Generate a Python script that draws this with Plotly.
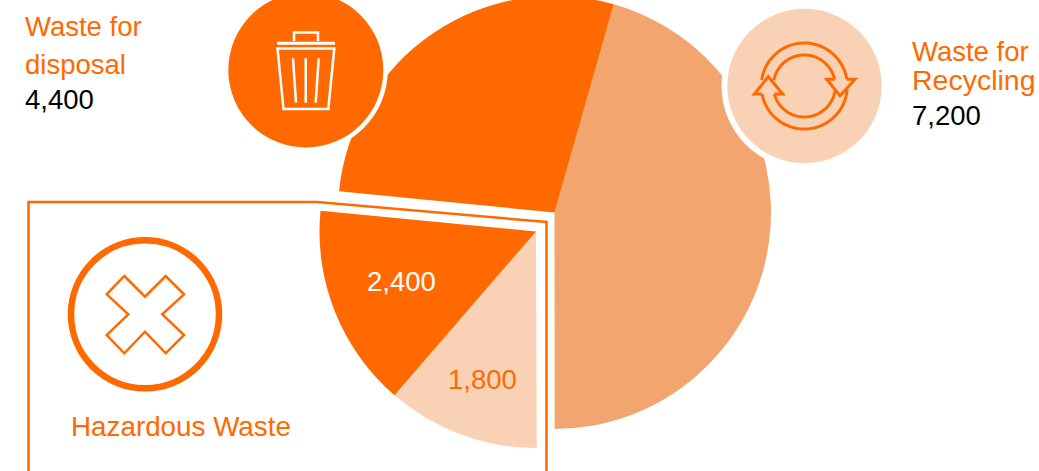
import numpy as np
import plotly.graph_objects as go

# Waste quantities
recycling = 7200
disposal = 4400
hazardous_labels = ["Low risk", "High risk"]
hazardous_values = [1800, 2400]

ORANGE = "#FF6900"
MID = "#F3A570"
LIGHT = "#F9D2B6"
CLEAR = "rgba(0,0,0,0)"
FONT = "Liberation Sans"

W, H = 1039, 476
TOP = 5  # the page is lifted by this much so the pie runs off the upper edge


def px(x):
    return x / W


def py(y):
    return 1 - (y + TOP) / H


def pie_domain(cx, cy, r):
    return dict(x=[px(cx - r), px(cx + r)], y=[py(cy + r), py(cy - r)])


def svg(points, closed=False):
    d = "M " + " L ".join(f"{px(x):.5f},{py(y):.5f}" for x, y in points)
    return d + (" Z" if closed else "")


def arc(cx, cy, r, a0, a1):
    angles = np.radians(np.linspace(a0, a1, 60))
    return list(zip(cx + r * np.cos(angles), cy + r * np.sin(angles)))


def disc(cx, cy, r, fill, line=None, lw=0):
    return dict(
        type="circle", xref="paper", yref="paper", layer="above",
        x0=px(cx - r), x1=px(cx + r), y0=py(cy + r), y1=py(cy - r),
        fillcolor=fill, line=dict(color=line or CLEAR, width=lw),
    )


def stroke(points, color, lw=2, closed=False):
    return dict(
        type="path", xref="paper", yref="paper", layer="above",
        path=svg(points, closed), line=dict(color=color, width=lw),
    )


def label(x, y, text, color, anchor="left", size=27.5):
    return dict(
        x=px(x), y=py(y), xref="paper", yref="paper", text=text,
        showarrow=False, xanchor=anchor, yanchor="middle",
        font=dict(family=FONT, size=size, color=color),
    )


hazardous_total = sum(hazardous_values)
main_values = [recycling, hazardous_total, disposal]
grand_total = sum(main_values)

fig = go.Figure()

# Recycling and disposal, with the hazardous share left empty
fig.add_trace(go.Pie(
    values=main_values,
    labels=["Waste for Recycling", "Hazardous Waste", "Waste for disposal"],
    sort=False, direction="clockwise", rotation=15.9,
    marker=dict(colors=[MID, CLEAR, ORANGE], line=dict(width=0)),
    textinfo="none", hoverinfo="label+value", showlegend=False,
    domain=pie_domain(554.5, 212.5, 216.5),
))

# Hazardous share pulled out towards the lower left
fig.add_trace(go.Pie(
    values=hazardous_values + [grand_total - hazardous_total],
    labels=hazardous_labels + ["Other"],
    sort=False, direction="clockwise", rotation=179.8,
    marker=dict(colors=[LIGHT, ORANGE, CLEAR], line=dict(width=0)),
    textinfo="none", hoverinfo="label+value", showlegend=False,
    domain=pie_domain(536, 231.5, 216.5),
))

shapes = [
    # White halos and badges
    disc(305.8, 70, 82, "white"),
    disc(305.8, 70, 77.5, ORANGE),
    disc(804.5, 86, 83, "white"),
    disc(804.5, 86, 77.2, LIGHT),
    # Frame around the hazardous section
    stroke([(28.5, 476), (28.5, 202), (317, 202), (546.5, 222), (546.5, 476)], ORANGE, 2.5),
    # Hazard badge
    disc(145, 314.3, 74, "white", ORANGE, 6.5),
    stroke([(124.3, 276), (145, 296.7), (165.7, 276), (184, 294.3), (162.3, 314.3),
            (184, 335), (165.7, 353.3), (145, 331.7), (124.3, 353.3), (106.7, 335),
            (128.3, 314.3), (106.7, 294.3)], ORANGE, 2.5, closed=True),
    # Bin icon
    stroke([(277, 43.3), (335, 43.3)], "white", 3),
    stroke([(294, 41), (294, 32.5), (318, 32.5), (318, 41)], "white", 2.5),
    stroke([(277.5, 48.5), (334.3, 48.5), (328.3, 109), (283.5, 109)], "white", 2.5, closed=True),
    stroke([(293, 58.3), (296, 102.7)], "white", 2.5),
    stroke([(305.7, 58.3), (305.7, 102.7)], "white", 2.5),
    stroke([(318.7, 58.3), (315.7, 102.7)], "white", 2.5),
]

# Recycling arrows: two bands, each ending in an arrowhead
cx, cy = 804.3, 86
shapes += [
    stroke(arc(cx, cy, 43, 188, 351), ORANGE, 3),
    stroke(arc(cx, cy, 31, 191, 347.5), ORANGE, 3),
    stroke(arc(cx, cy, 43, 5, 169), ORANGE, 3),
    stroke(arc(cx, cy, 31, 7.4, 165), ORANGE, 3),
    stroke([(834.6, 79.3), (826.7, 79.3), (840, 95.7), (855, 79.3), (846.8, 79.3)], ORANGE, 3),
    stroke([(762.1, 94), (754.3, 94), (768.3, 76.7), (782.7, 94), (774.3, 94)], ORANGE, 3),
]

annotations = [
    label(23, 27, "Waste for", ORANGE),
    label(23, 64, "disposal", ORANGE),
    label(23, 99, f"{disposal:,}", "black"),
    label(910, 51, "Waste for", ORANGE),
    label(910, 80, "Recycling", ORANGE, size=28.5),
    label(910, 115, f"{recycling:,}", "black"),
    label(69, 426, "Hazardous Waste", ORANGE, size=27.8),
    label(401.5, 281, f"{hazardous_values[1]:,}", "white", "center"),
    label(482, 379, f"{hazardous_values[0]:,}", ORANGE, "center"),
]

fig.update_layout(
    width=W, height=H,
    margin=dict(l=0, r=0, t=0, b=0),
    paper_bgcolor="white", plot_bgcolor="white",
    shapes=shapes, annotations=annotations,
    font=dict(family=FONT),
)

fig.write_html(
    "out.html",
    config=dict(displayModeBar=False),
    post_script=f"document.getElementById('{{plot_id}}').style.marginTop='-{TOP}px';",
)
